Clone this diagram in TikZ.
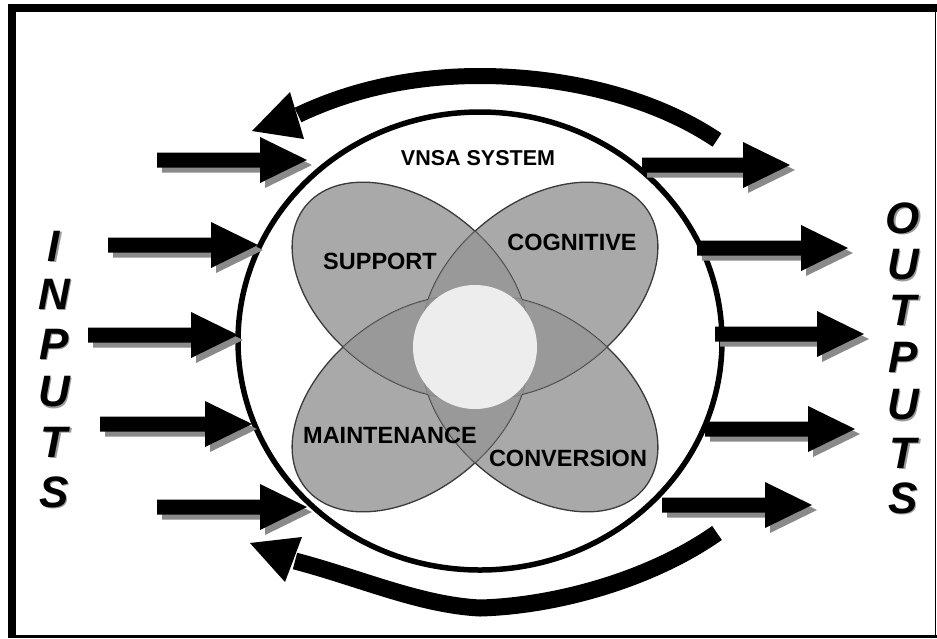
\documentclass[tikz,border=0pt]{standalone}
\usepackage{fontspec}
\setmainfont{Liberation Sans}
\definecolor{petal}{HTML}{A9A9A9}
\definecolor{petalovl}{HTML}{949494}
\definecolor{petaledge}{HTML}{3A3A3A}
\definecolor{shadowgray}{HTML}{8A8A8A}
\definecolor{lettershade}{HTML}{9A9A9A}
\definecolor{hub}{HTML}{EDEDED}
\tikzset{
  pS/.style={shift={(410,290)},rotate=-38.7},
  pC/.style={shift={(540,290)},rotate=38.7},
  pM/.style={shift={(410,404)},rotate=38.7},
  pV/.style={shift={(540,404)},rotate=-38.7},
  petaledge/.style={draw=petaledge,line width=1.3pt},
  label/.style={font=\fontsize{23.5}{24}\selectfont\bfseries,inner sep=0pt},
  bigletter/.style={font=\fontsize{44}{44}\selectfont\bfseries\itshape,inner sep=0pt},
  bigshade/.style={bigletter,text=lettershade},
  feedback/.style={draw=black,line cap=butt}
}
\newcommand{\arrowpath}[3]{(#1,#2-7.5) -- (#3-47,#2-7.5) -- (#3-47,#2-23) -- (#3,#2) -- (#3-47,#2+23) -- (#3-47,#2+7.5) -- (#1,#2+7.5) -- cycle}
\newcommand{\blockarrow}[3]{%
  \fill[shadowgray,shift={(5,5)}] \arrowpath{#1}{#2}{#3};
  \fill[black] \arrowpath{#1}{#2}{#3};}
\newcommand{\petalpath}{(0,0) ellipse [x radius=134, y radius=87]}
\begin{document}
\begin{tikzpicture}[x=1pt,y=-1pt]
\useasboundingbox (0,0) rectangle (937,638);
% frame
\fill[white] (0,0) rectangle (937,638);
\fill[black] (8,4) rectangle (16,638);
\fill[black] (8,4) rectangle (937,12);
\fill[black] (8,635) rectangle (937,638);
\draw[line width=1.5pt] (935.5,4) -- (935.5,638);

% petals: single fills
\fill[petal,pS] \petalpath;
\fill[petal,pC] \petalpath;
\fill[petal,pM] \petalpath;
\fill[petal,pV] \petalpath;
% outlines
\path[petaledge,pC] \petalpath;
\path[petaledge,pS] \petalpath;
\path[petaledge,pV] \petalpath;
\path[petaledge,pM] \petalpath;
% overlaps
\begin{scope}[fill opacity=0.72]
\begin{scope}\clip[pS] \petalpath; \fill[petalovl,pC] \petalpath;\end{scope}
\begin{scope}\clip[pS] \petalpath; \fill[petalovl,pM] \petalpath;\end{scope}
\begin{scope}\clip[pS] \petalpath; \fill[petalovl,pV] \petalpath;\end{scope}
\begin{scope}\clip[pC] \petalpath; \fill[petalovl,pM] \petalpath;\end{scope}
\begin{scope}\clip[pC] \petalpath; \fill[petalovl,pV] \petalpath;\end{scope}
\begin{scope}\clip[pM] \petalpath; \fill[petalovl,pV] \petalpath;\end{scope}
\end{scope}
% hub
\fill[hub] (475,347) circle [radius=62];

% big system circle
\draw[line width=5.5pt] (480,341) ellipse [x radius=242, y radius=229];

% labels
\node[font=\fontsize{21.5}{22}\selectfont\bfseries,inner sep=0pt] (title) at (478,158) {VNSA SYSTEM};
\node[label] (support) at (380,261) {SUPPORT};
\node[label] (cognitive) at (572,242) {COGNITIVE};
\node[label] (maintenance) at (390,435) {MAINTENANCE};
\node[label] (conversion) at (568,458) {CONVERSION};

% input arrows
\blockarrow{157}{160}{307}
\blockarrow{108}{245}{258}
\blockarrow{88}{335}{238}
\blockarrow{100}{424}{252}
\blockarrow{157}{507}{307}
% output arrows
\blockarrow{642}{165}{790}
\blockarrow{697}{248}{848}
\blockarrow{715}{334}{864}
\blockarrow{705}{429}{855}
\blockarrow{662}{505}{812}

% feedback arrows
\draw[feedback,line width=16pt] (717,140) .. controls (650,95) and (560,76) .. (480,76) .. controls (400,76) and (340,95) .. (298,115);
\fill[black] (290,92) -- (252,131) -- (304,139) -- cycle;
\draw[feedback,line width=17pt] (717,533) .. controls (650,580) and (555,606) .. (480,608) .. controls (420,605) and (360,578) .. (295,561);
\fill[black] (302,537) -- (250,543) -- (285,582) -- cycle;

% INPUTS
\foreach \ch/\yy [count=\k] in {I/246,N/294,P/344,U/392,T/442,S/492}{
  \node[bigshade] at (55.5,\yy+1.5) {\ch};
  \node[bigletter] (in\k) at (54,\yy) {\ch};
}
% OUTPUTS
\foreach \ch/\yy [count=\k] in {O/218,U/265,T/310,P/357,U/405,T/453,S/498}{
  \node[bigshade] at (904.5,\yy+1.5) {\ch};
  \node[bigletter] (out\k) at (903,\yy) {\ch};
}
\end{tikzpicture}
\end{document}
